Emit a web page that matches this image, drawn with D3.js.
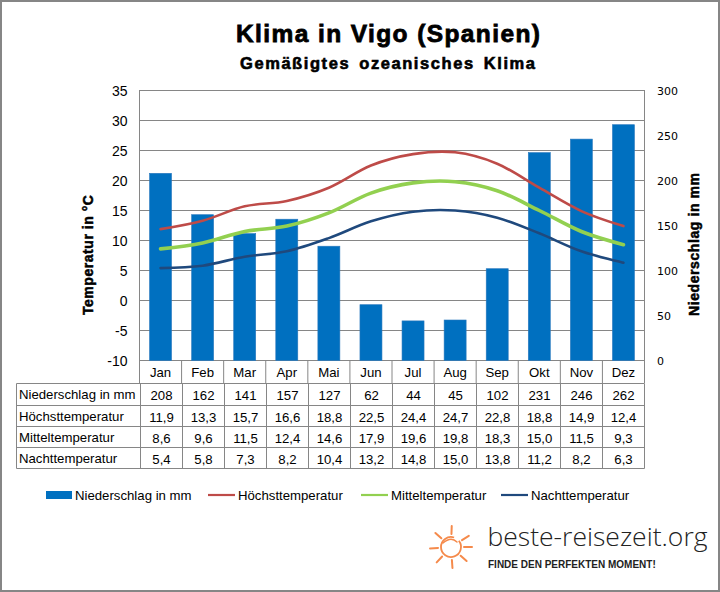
<!DOCTYPE html>
<html>
<head>
<meta charset="utf-8">
<script src="https://cdn.jsdelivr.net/npm/d3@7"></script>
<style>
    html, body { margin: 0; padding: 0; background: #fff; }
    svg { display: block; }
    text { font-family: "Liberation Sans", Arial, sans-serif; fill: #000; }
</style>
</head>
<body>
<svg id="chart" width="720" height="592"></svg>
<script>
const months = ["Jan", "Feb", "Mar", "Apr", "Mai", "Jun", "Jul", "Aug", "Sep", "Okt", "Nov", "Dez"];
const niederschlag = [208, 162, 141, 157, 127, 62, 44, 45, 102, 231, 246, 262];
const hoechst = [11.9, 13.3, 15.7, 16.6, 18.8, 22.5, 24.4, 24.7, 22.8, 18.8, 14.9, 12.4];
const mittel = [8.6, 9.6, 11.5, 12.4, 14.6, 17.9, 19.6, 19.8, 18.3, 15.0, 11.5, 9.3];
const nacht = [5.4, 5.8, 7.3, 8.2, 10.4, 13.2, 14.8, 15.0, 13.8, 11.2, 8.2, 6.3];
const tempTicks = [-10, -5, 0, 5, 10, 15, 20, 25, 30, 35];
const rainTicks = [0, 50, 100, 150, 200, 250, 300];
const sunRays = [-88, -32, 0, 42, 86, 133, 176, 222];

const GRID = "#868686";
const BLUE = "#0070c0";
const RED = "#be4b48";
const GREEN = "#92d050";
const NAVY = "#1f497d";
const LABEL_SIZE = 13.2;

const comma = v => v.toFixed(1).replace(".", ",");

const svg = d3.select("#chart");

const plotLeft = 139.5, plotRight = 644.5, plotTop = 90.5, plotBottom = 360.5;

const x = d3.scaleBand().domain(months).range([plotLeft, plotRight]);
const yTemp = d3.scaleLinear().domain([-10, 35]).range([plotBottom, plotTop]);
const yRain = d3.scaleLinear().domain([0, 300]).range([plotBottom, plotTop]);

// frame around the whole picture
svg.append("rect")
    .attr("x", 1).attr("y", 1).attr("width", 718).attr("height", 590)
    .attr("fill", "#fff").attr("stroke", GRID).attr("stroke-width", 2);

// titles
svg.append("text")
    .attr("x", 236).attr("y", 42)
    .attr("font-size", 24.5).attr("font-weight", "bold")
    .attr("stroke", "#000").attr("stroke-width", 0.8)
    .attr("textLength", 304)
    .text("Klima in Vigo (Spanien)");
svg.append("text")
    .attr("x", 240).attr("y", 69)
    .attr("font-size", 16.5).attr("font-weight", "bold")
    .attr("stroke", "#000").attr("stroke-width", 0.6)
    .attr("word-spacing", 3)
    .attr("textLength", 295)
    .text("Gemäßigtes ozeanisches Klima");

// grid lines
svg.append("g").selectAll("line")
    .data(tempTicks)
    .join("line")
    .attr("x1", plotLeft).attr("x2", plotRight)
    .attr("y1", d => yTemp(d)).attr("y2", d => yTemp(d))
    .attr("stroke", GRID);

svg.append("rect")
    .attr("x", plotLeft).attr("y", plotTop)
    .attr("width", plotRight - plotLeft).attr("height", plotBottom - plotTop)
    .attr("fill", "none").attr("stroke", GRID);

// bars
svg.append("g").selectAll("rect")
    .data(niederschlag)
    .join("rect")
    .attr("x", (d, i) => x(months[i]) + x.bandwidth() / 2 - 11)
    .attr("y", d => yRain(d))
    .attr("width", 22)
    .attr("height", d => plotBottom - yRain(d))
    .attr("fill", BLUE)
    .attr("stroke", "#2a78bd")
    .attr("stroke-width", 0.6);

// temperature lines
const line = d3.line()
    .x((d, i) => x(months[i]) + x.bandwidth() / 2)
    .y(d => yTemp(d))
    .curve(d3.curveCardinal.tension(0));

svg.append("g").selectAll("path")
    .data([
        { values: hoechst, color: RED, width: 2.6 },
        { values: mittel, color: GREEN, width: 3.6 },
        { values: nacht, color: NAVY, width: 2.6 }
    ])
    .join("path")
    .attr("d", d => line(d.values))
    .attr("fill", "none")
    .attr("stroke", d => d.color)
    .attr("stroke-width", d => d.width)
    .attr("stroke-linecap", "round");

// axis labels
svg.append("g").selectAll("text")
    .data(tempTicks)
    .join("text")
    .attr("x", 127.5)
    .attr("y", d => yTemp(d) + 5)
    .attr("text-anchor", "end")
    .attr("font-size", 14)
    .text(d => d);

svg.append("g").selectAll("text")
    .data(rainTicks)
    .join("text")
    .attr("x", 657)
    .attr("y", d => yRain(d) + 4)
    .attr("font-size", 11)
    .style("font-family", "'DejaVu Sans'")
    .text(d => d);

svg.append("text")
    .attr("transform", "translate(93,315) rotate(-90)")
    .attr("font-size", 14).attr("font-weight", "bold")
    .attr("stroke", "#000").attr("stroke-width", 0.5)
    .attr("textLength", 120)
    .text("Temperatur in °C");

svg.append("text")
    .attr("transform", "translate(699,316) rotate(-90)")
    .attr("font-size", 14).attr("font-weight", "bold")
    .attr("stroke", "#000").attr("stroke-width", 0.5)
    .attr("textLength", 143)
    .text("Niederschlag in mm");

// month header cells under the plot
const head = svg.append("g");
head.selectAll("line")
    .data(d3.range(months.length + 1))
    .join("line")
    .attr("x1", i => plotLeft + i * x.step()).attr("x2", i => plotLeft + i * x.step())
    .attr("y1", plotBottom).attr("y2", 383)
    .attr("stroke", GRID);
head.selectAll("text")
    .data(months)
    .join("text")
    .attr("x", d => x(d) + x.bandwidth() / 2)
    .attr("y", 377)
    .attr("text-anchor", "middle")
    .attr("font-size", LABEL_SIZE)
    .text(d => d);

// data table
const rows = [
    { label: "Niederschlag in mm", values: niederschlag.map(String) },
    { label: "Höchsttemperatur", values: hoechst.map(comma) },
    { label: "Mitteltemperatur", values: mittel.map(comma) },
    { label: "Nachttemperatur", values: nacht.map(comma) }
];
const rowY = [383.5, 405.5, 426.5, 447.5, 468.5];
const tableLeft = 16.5, tableCol = 140.5;
const colW = (plotRight - tableCol) / months.length;
const table = svg.append("g");

table.selectAll("line.row")
    .data(rowY)
    .join("line")
    .attr("class", "row")
    .attr("x1", tableLeft).attr("x2", plotRight)
    .attr("y1", d => d).attr("y2", d => d)
    .attr("stroke", GRID);

table.selectAll("line.col")
    .data(d3.range(months.length + 2))
    .join("line")
    .attr("class", "col")
    .attr("x1", i => i === 0 ? tableLeft : tableCol + (i - 1) * colW)
    .attr("x2", i => i === 0 ? tableLeft : tableCol + (i - 1) * colW)
    .attr("y1", rowY[0]).attr("y2", rowY[4])
    .attr("stroke", GRID);

rows.forEach((row, r) => {
    table.append("text")
        .attr("x", 19)
        .attr("y", rowY[r] + 15)
        .attr("font-size", LABEL_SIZE)
        .text(row.label);

    table.append("g").selectAll("text")
        .data(row.values)
        .join("text")
        .attr("x", (d, i) => tableCol + (i + 0.5) * colW)
        .attr("y", rowY[r] + 16)
        .attr("text-anchor", "middle")
        .attr("font-size", LABEL_SIZE)
        .text(d => d);
});

// legend
const legend = svg.append("g");
legend.append("rect")
    .attr("x", 46).attr("y", 491).attr("width", 26).attr("height", 8)
    .attr("fill", BLUE);
legend.append("text").attr("x", 75).attr("y", 500).attr("font-size", LABEL_SIZE).text("Niederschlag in mm");

const legendLines = [
    { label: "Höchsttemperatur", color: RED, x: 208 },
    { label: "Mitteltemperatur", color: GREEN, x: 361 },
    { label: "Nachttemperatur", color: NAVY, x: 501 }
];
legend.selectAll("line")
    .data(legendLines)
    .join("line")
    .attr("x1", d => d.x).attr("x2", d => d.x + 27)
    .attr("y1", 495).attr("y2", 495)
    .attr("stroke", d => d.color).attr("stroke-width", 2.2);
legend.selectAll("text.item")
    .data(legendLines)
    .join("text")
    .attr("class", "item")
    .attr("x", d => d.x + 30)
    .attr("y", 500)
    .attr("font-size", LABEL_SIZE)
    .text(d => d.label);

// logo
const logo = svg.append("g");
const sun = logo.append("g")
    .attr("transform", "translate(451,547)")
    .attr("stroke", "#f58a4b").attr("fill", "none")
    .attr("stroke-linecap", "round");
sun.append("path")
    .attr("d", d3.arc()({ innerRadius: 10, outerRadius: 10, startAngle: 0.9, endAngle: 6.6 }))
    .attr("stroke-width", 1.8);
sun.append("path")
    .attr("d", "M-8,-4 Q0,-11 6,-5")
    .attr("stroke-width", 1.5);
sun.selectAll("line")
    .data(sunRays)
    .join("line")
    .attr("x1", d => 13 * Math.cos(d * Math.PI / 180))
    .attr("y1", d => 13 * Math.sin(d * Math.PI / 180))
    .attr("x2", d => 21 * Math.cos(d * Math.PI / 180))
    .attr("y2", d => 21 * Math.sin(d * Math.PI / 180))
    .attr("stroke-width", 2);

logo.append("text")
    .attr("x", 487.5).attr("y", 546)
    .style("font-family", "'Open Sans'")
    .attr("font-weight", 300)
    .attr("font-size", 26.5)
    .style("fill", "#222")
    .text("beste-reisezeit.org");
logo.append("text")
    .attr("x", 488).attr("y", 568)
    .attr("font-weight", "bold")
    .attr("font-size", 10)
    .style("fill", "#222")
    .text("FINDE DEN PERFEKTEN MOMENT!");
</script>
</body>
</html>
